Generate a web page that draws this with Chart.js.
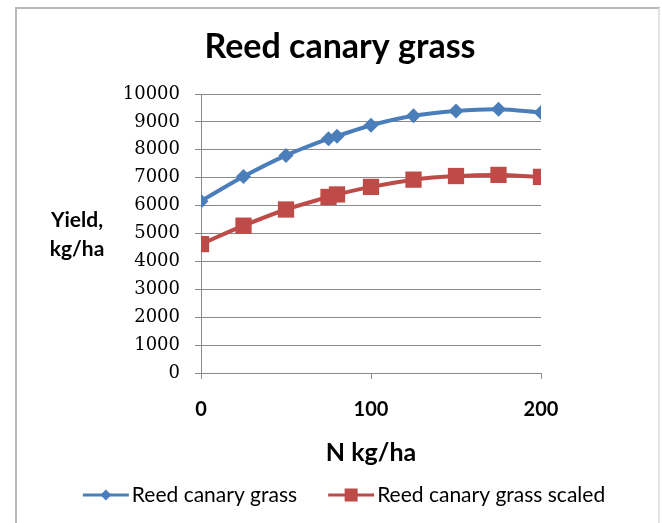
<!DOCTYPE html>
<html>
<head>
<meta charset="utf-8">
<script src="https://cdn.jsdelivr.net/npm/chart.js@4/dist/chart.umd.min.js"></script>
<style>
  html, body { margin: 0; padding: 0; background: #ffffff; overflow: hidden; }
  #frame { position: absolute; left: 15px; top: 7px; width: 645px; height: 600px; border: 2px solid #b8b8b8; border-right-color: #e4e4e4; box-sizing: border-box; }
  #c { position: absolute; left: 0; top: 0; }
</style>
</head>
<body>
<div id="frame"></div>
<canvas id="c" width="662" height="523"></canvas>
<script>
// ---- data ----
const chartTitle = 'Reed canary grass';
const xTitle = 'N kg/ha';
const yTitleLines = ['Yield,', 'kg/ha'];
const nRates = [0, 25, 50, 75, 80, 100, 125, 150, 175, 200];
const seriesNames = ['Reed canary grass', 'Reed canary grass scaled'];
const yieldRCG = [6160, 7040, 7800, 8400, 8490, 8880, 9220, 9390, 9450, 9340];
const yieldRCGScaled = [4620, 5280, 5860, 6310, 6400, 6670, 6930, 7060, 7100, 7030];
const yTicks = [0, 1000, 2000, 3000, 4000, 5000, 6000, 7000, 8000, 9000, 10000];
const xTicks = [0, 100, 200];

const BLUE = '#4a7ebb';
const RED = '#be4b48';
const GRID = '#8a8a8a';

function pts(xs, ys) { return xs.map((x, i) => ({ x: x, y: ys[i] })); }

const titlePlugin = {
  id: 'centerTitle',
  afterDraw(chart) {
    const ctx = chart.ctx;
    ctx.save();
    ctx.font = 'bold 34px Lato';
    ctx.fillStyle = '#000';
    ctx.textAlign = 'center';
    ctx.textBaseline = 'middle';
    ctx.fillText(chartTitle, 340, 47);
    ctx.restore();
  }
};

const yTitlePlugin = {
  id: 'yTitle',
  afterDraw(chart) {
    const ctx = chart.ctx, a = chart.chartArea;
    const cy = (a.top + a.bottom) / 2;
    ctx.save();
    ctx.font = 'bold 21px Lato';
    ctx.fillStyle = '#000';
    ctx.textAlign = 'center';
    ctx.textBaseline = 'middle';
    const cx = a.left - 124;
    ctx.fillText(yTitleLines[0], cx, cy - 13);
    ctx.fillText(yTitleLines[1], cx, cy + 16);
    ctx.restore();
  }
};

const legendPlugin = {
  id: 'lineLegend',
  afterDraw(chart) {
    const ctx = chart.ctx;
    const y = 495;
    const lineLen = 46, gapText = 3, gapItem = 31;
    ctx.save();
    ctx.font = '21px Lato';
    const widths = chart.data.datasets.map(d => ctx.measureText(d.label).width);
    let total = 0;
    widths.forEach((w, i) => { total += lineLen + gapText + w + (i < widths.length - 1 ? gapItem : 0); });
    let x = 344 - total / 2;
    chart.data.datasets.forEach((d, i) => {
      ctx.strokeStyle = d.borderColor;
      ctx.lineWidth = 3;
      ctx.beginPath();
      ctx.moveTo(x, y);
      ctx.lineTo(x + lineLen, y);
      ctx.stroke();
      const mx = x + lineLen / 2;
      ctx.fillStyle = d.backgroundColor;
      ctx.beginPath();
      if (d.pointStyle === 'rectRot') {
        const r = 5.5;
        ctx.moveTo(mx, y - r); ctx.lineTo(mx + r, y); ctx.lineTo(mx, y + r); ctx.lineTo(mx - r, y);
        ctx.closePath();
      } else {
        const s = 13;
        ctx.rect(mx - s / 2, y - s / 2, s, s);
      }
      ctx.fill();
      ctx.fillStyle = '#000';
      ctx.textAlign = 'left';
      ctx.textBaseline = 'middle';
      ctx.fillText(d.label, x + lineLen + gapText, y);
      x += lineLen + gapText + widths[i] + gapItem;
    });
    ctx.restore();
  }
};

new Chart(document.getElementById('c'), {
  type: 'line',
  data: {
    datasets: [
      {
        label: seriesNames[0],
        data: pts(nRates, yieldRCG),
        borderColor: BLUE,
        backgroundColor: BLUE,
        borderWidth: 4,
        pointStyle: 'rectRot',
        pointRadius: 7.5,
        pointBorderWidth: 0,
        tension: 0.3
      },
      {
        label: seriesNames[1],
        data: pts(nRates, yieldRCGScaled),
        borderColor: RED,
        backgroundColor: RED,
        borderWidth: 4,
        pointStyle: 'rect',
        pointRadius: 11.5,
        pointBorderWidth: 0,
        tension: 0.3
      }
    ]
  },
  options: {
    responsive: false,
    animation: false,
    layout: { padding: { left: 0, right: 121, top: 94, bottom: 54 } },
    plugins: {
      legend: { display: false },
      tooltip: { enabled: false },
      title: { display: false }
    },
    scales: {
      x: {
        type: 'linear',
        min: 0, max: 200,
        afterBuildTicks(scale) { scale.ticks = xTicks.map(v => ({ value: v })); },
        afterFit(scale) { scale.height = 96; },
        ticks: { color: '#000', font: { family: 'Lato', size: 20, weight: 'bold' }, padding: 19, maxRotation: 0,
                 callback: v => String(v) },
        grid: { drawOnChartArea: false, drawTicks: true, tickLength: 6, color: GRID },
        border: { color: GRID, width: 1 },
        title: {
          display: true,
          text: xTitle,
          color: '#000',
          font: { family: 'Lato', size: 25, weight: 'bold', lineHeight: 1.2 },
          padding: { top: 0, bottom: 1 }
        }
      },
      y: {
        type: 'linear',
        min: 0, max: 10000,
        afterBuildTicks(scale) { scale.ticks = yTicks.map(v => ({ value: v })); },
        afterFit(scale) { scale.width = 201; },
        ticks: { color: '#000', font: { family: 'DejaVu Serif', size: 18 }, padding: 15,
                 callback: v => String(v) },
        grid: { color: GRID, drawTicks: true, tickLength: 6 },
        border: { color: GRID, width: 1 }
      }
    }
  },
  plugins: [titlePlugin, yTitlePlugin, legendPlugin]
});
</script>
</body>
</html>
